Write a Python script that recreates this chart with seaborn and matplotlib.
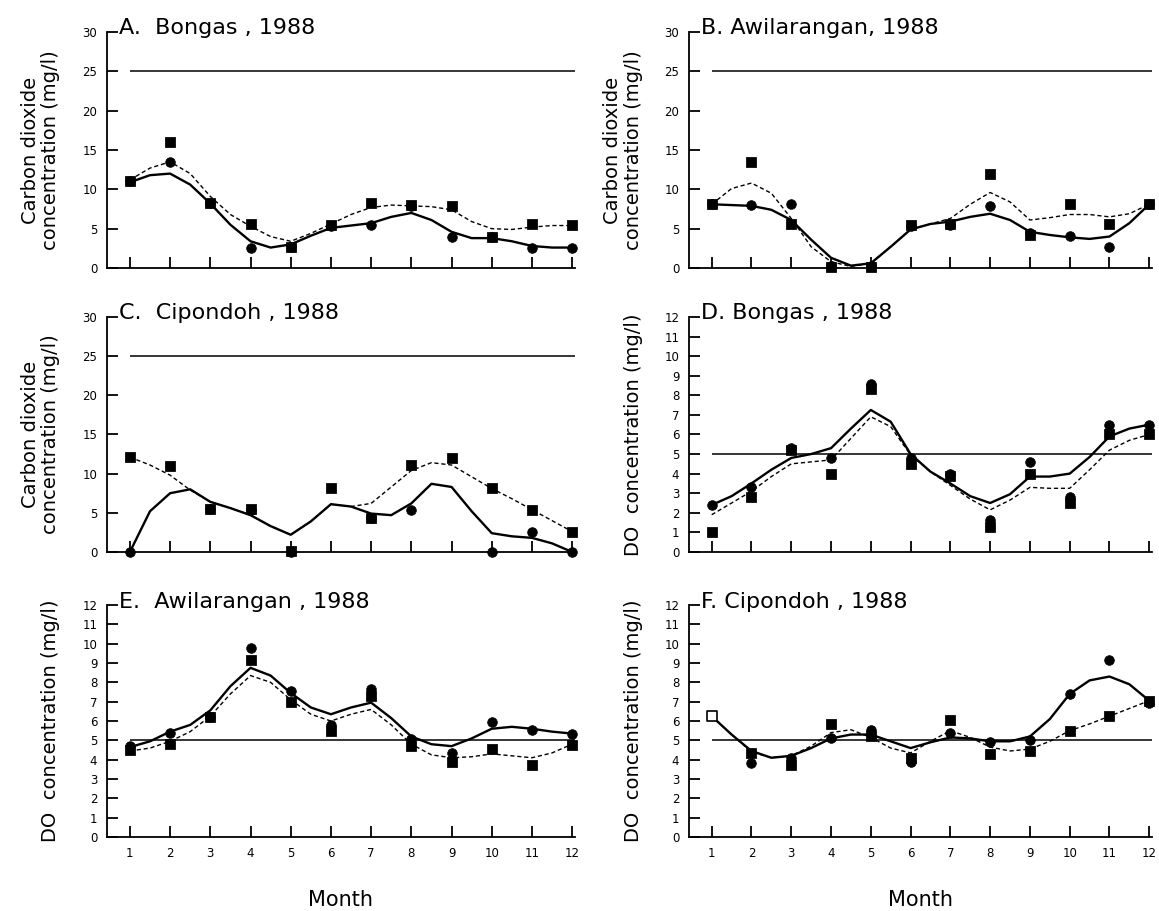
import numpy as np
import pandas as pd
import matplotlib
matplotlib.use("Agg")
import matplotlib.pyplot as plt
import seaborn as sb

# DATA
months = [1, 2, 3, 4, 5, 6, 7, 8, 9, 10, 11, 12]
half_months = [1, 1.5, 2, 2.5, 3, 3.5, 4, 4.5, 5, 5.5, 6, 6.5,
               7, 7.5, 8, 8.5, 9, 9.5, 10, 10.5, 11, 11.5, 12]

# A. Bongas, CO2
a_circles = [11.0, 13.5, 8.3, 2.6, 2.7, 5.3, 5.5, 7.9, 3.9, 4.0, 2.6, 2.6]
a_squares = [11.0, 16.0, 8.3, 5.6, 2.7, 5.5, 8.2, 8.0, 7.9, 4.0, 5.6, 5.5]
a_solid = [10.9, 11.8, 12.0, 10.6, 8.2, 5.5, 3.4, 2.6, 3.0, 4.1, 5.1, 5.4,
           5.7, 6.5, 7.0, 6.1, 4.6, 3.8, 3.8, 3.4, 2.8, 2.6, 2.6]
a_dashed = [11.2, 12.7, 13.5, 12.0, 9.1, 6.8, 5.3, 4.0, 3.4, 4.4, 5.6, 6.8,
            7.7, 8.0, 7.9, 7.8, 7.4, 5.9, 5.0, 4.9, 5.2, 5.4, 5.4]

# B. Awilarangan, CO2
b_circles = [8.1, 8.0, 8.1, 0.2, 0.2, 5.3, 5.5, 7.9, 4.4, 4.1, 2.7, 8.1]
b_squares = [8.1, 13.5, 5.6, 0.1, 0.1, 5.5, 5.6, 12.0, 4.2, 8.1, 5.6, 8.1]
b_solid = [8.1, 8.0, 7.9, 7.4, 6.1, 3.6, 1.3, 0.3, 0.6, 2.7, 4.9, 5.6,
           5.9, 6.5, 6.9, 6.1, 4.6, 4.2, 3.9, 3.7, 4.0, 5.7, 8.1]
b_dashed = [8.1, 10.1, 10.8, 9.5, 6.3, 2.7, 0.8, 0.2, 0.6, 2.7, 4.9, 5.6,
            6.3, 8.1, 9.6, 8.4, 6.1, 6.4, 6.8, 6.8, 6.5, 6.9, 8.1]

# C. Cipondoh, CO2
c_circles = [0.0, np.nan, 5.5, 5.4, 0.0, np.nan, 4.3, 5.4, np.nan, 0.0, 2.6, 0.0]
c_squares = [12.1, 11.0, 5.5, 5.5, 0.1, 8.2, 4.3, 11.1, 12.0, 8.2, 5.4, 2.6]
c_solid = [0.0, 5.2, 7.5, 8.0, 6.4, 5.6, 4.7, 3.3, 2.2, 3.9, 6.1, 5.8,
           4.9, 4.7, 6.2, 8.7, 8.3, 5.2, 2.4, 2.0, 1.8, 1.1, 0.0]
c_dashed = [12.1, 11.1, 9.8, 7.9, 6.4, 5.6, 4.7, 3.3, 2.2, 3.9, 6.1, 5.8,
            6.2, 8.3, 10.4, 11.4, 11.1, 9.6, 8.1, 6.8, 5.4, 4.0, 2.6]

# D. Bongas, DO
d_circles = [2.4, 3.3, 5.3, 4.8, 8.6, 4.8, 4.0, 1.65, 4.6, 2.8, 6.5, 6.5]
d_squares = [1.0, 2.8, 5.2, 4.0, 8.3, 4.5, 3.9, 1.3, 4.0, 2.5, 6.0, 6.0]
d_solid = [2.4, 2.85, 3.5, 4.2, 4.8, 5.0, 5.3, 6.3, 7.25, 6.65, 5.0, 4.1,
           3.5, 2.85, 2.5, 2.95, 3.85, 3.85, 4.0, 4.85, 5.9, 6.3, 6.5]
d_dashed = [1.9, 2.5, 3.1, 3.85, 4.5, 4.6, 4.7, 5.8, 6.9, 6.4, 4.95, 4.1,
            3.4, 2.7, 2.15, 2.65, 3.3, 3.25, 3.25, 4.2, 5.2, 5.7, 6.0]

# E. Awilarangan, DO
e_circles = [4.7, 5.4, 6.2, 9.8, 7.55, 5.8, 7.65, 5.05, 4.35, 5.95, 5.55, 5.35]
e_squares = [4.5, 4.8, 6.2, 9.15, 7.0, 5.5, 7.3, 4.7, 3.9, 4.55, 3.75, 4.75]
e_solid = [4.65, 4.95, 5.45, 5.8, 6.55, 7.8, 8.75, 8.35, 7.45, 6.7, 6.35, 6.7,
           6.95, 6.15, 5.2, 4.8, 4.7, 5.1, 5.6, 5.7, 5.6, 5.45, 5.35]
e_dashed = [4.45, 4.6, 4.95, 5.45, 6.25, 7.4, 8.35, 8.0, 7.1, 6.35, 6.0, 6.35,
            6.6, 5.8, 4.8, 4.25, 4.1, 4.15, 4.3, 4.2, 4.1, 4.35, 4.8]

# F. Cipondoh, DO (January value shown as an open square)
f_circles = [np.nan, 3.85, 4.1, 5.1, 5.55, 3.9, 5.4, 4.9, 5.0, 7.4, 9.15, 6.95]
f_squares = [np.nan, 4.35, 3.75, 5.85, 5.2, 4.1, 6.05, 4.3, 4.45, 5.5, 6.25, 7.05]
f_open_month = [1]
f_open_value = [6.25]
f_solid = [6.25, 5.3, 4.45, 4.1, 4.2, 4.6, 5.1, 5.3, 5.3, 4.95, 4.6, 4.9,
           5.15, 5.1, 4.95, 4.95, 5.2, 6.1, 7.4, 8.1, 8.3, 7.9, 7.05]
f_dashed = [6.25, 5.3, 4.4, 4.1, 4.2, 4.7, 5.4, 5.55, 5.15, 4.6, 4.35, 4.95,
            5.5, 5.15, 4.65, 4.45, 4.55, 4.95, 5.5, 5.85, 6.25, 6.65, 7.05]

co2_ticks = [0, 5, 10, 15, 20, 25, 30]
do_ticks = [0, 1, 2, 3, 4, 5, 6, 7, 8, 9, 10, 11, 12]

panels = [
    ("A.  Bongas , 1988", a_circles, a_squares, a_solid, a_dashed, "co2"),
    ("B. Awilarangan, 1988", b_circles, b_squares, b_solid, b_dashed, "co2"),
    ("C.  Cipondoh , 1988", c_circles, c_squares, c_solid, c_dashed, "co2"),
    ("D. Bongas , 1988", d_circles, d_squares, d_solid, d_dashed, "do"),
    ("E.  Awilarangan , 1988", e_circles, e_squares, e_solid, e_dashed, "do"),
    ("F. Cipondoh , 1988", f_circles, f_squares, f_solid, f_dashed, "do"),
]

sb.set_theme(style="ticks")
plt.rcParams["font.family"] = ["DejaVu Sans"]
for key in ["text.color", "axes.labelcolor", "xtick.color", "ytick.color"]:
    plt.rcParams[key] = "black"

fig = plt.figure(figsize=(11.59, 9.11), dpi=100)

# axes rectangles (left, bottom, width, height) in figure fraction
lefts = [0.0923, 0.5945]
widths = [0.4038, 0.3995]
rows = [(0.7058, 0.2591), (0.3941, 0.2580), (0.0812, 0.2547)]

for i, (title, circles, squares, solid, dashed, kind) in enumerate(panels):
    row, col = divmod(i, 2)
    ax = fig.add_axes([lefts[col], rows[row][0], widths[col], rows[row][1]])

    if kind == "co2":
        ref, ticks, top = 25, co2_ticks, 30
        ylabel = "Carbon dioxide\nconcentration (mg/l)"
    else:
        ref, ticks, top = 5, do_ticks, 12
        ylabel = "DO  concentration (mg/l)"

    ax.hlines(ref, 1, 12.1, color="black", lw=1.1, zorder=1)

    curve = pd.DataFrame({"month": half_months, "solid": solid, "dashed": dashed})
    sb.lineplot(data=curve, x="month", y="dashed", ax=ax, color="black",
                lw=1.0, linestyle=(0, (3, 2)), zorder=2)
    sb.lineplot(data=curve, x="month", y="solid", ax=ax, color="black",
                lw=1.7, zorder=2, solid_joinstyle="round")

    pts = pd.DataFrame({"month": months, "circle": circles, "square": squares})
    sb.scatterplot(data=pts, x="month", y="square", ax=ax, marker="s", s=48,
                   color="black", edgecolor="black", clip_on=False, zorder=3)
    sb.scatterplot(data=pts, x="month", y="circle", ax=ax, marker="o", s=48,
                   color="black", edgecolor="black", clip_on=False, zorder=4)
    if title.startswith("F."):
        sb.scatterplot(x=f_open_month, y=f_open_value, ax=ax, marker="s", s=48,
                       color="white", edgecolor="black", linewidth=1.2,
                       clip_on=False, zorder=5)

    ax.set_xlim(0.43, 12.07)
    ax.set_ylim(0, top)
    ax.set_xticks(months)
    ax.set_yticks(ticks)
    for side in ["top", "right"]:
        ax.spines[side].set_visible(False)
    for side in ["left", "bottom"]:
        ax.spines[side].set_linewidth(1.3)
        ax.spines[side].set_color("black")
    ax.tick_params(axis="both", direction="in", length=8, width=1.3,
                   color="black", labelsize=8.5, pad=7,
                   left=True, bottom=True, right=False, top=False)
    if row < 2:
        ax.tick_params(axis="x", labelbottom=False)
        ax.set_xlabel("")
    else:
        ax.set_xlabel("Month", fontsize=15, labelpad=22)

    ax.set_ylabel(ylabel, fontsize=14, linespacing=1.1)
    ax.yaxis.set_label_coords(-0.10, 0.5)

    ax.text(0.025, 1.015, title, transform=ax.transAxes, fontsize=16,
            ha="left", va="center")

fig.savefig("out.png", dpi=100)
